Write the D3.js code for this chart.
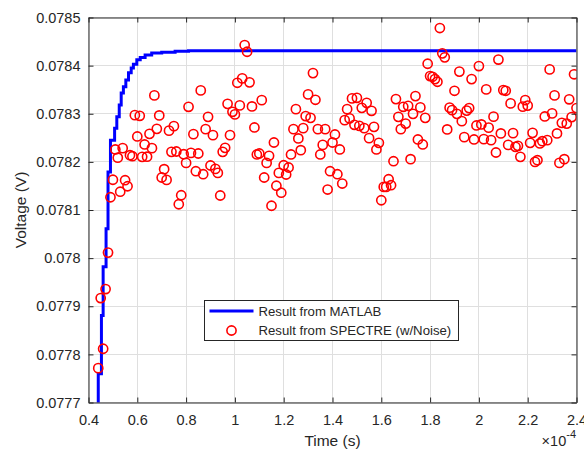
<!DOCTYPE html>
<html>
<head>
<meta charset="utf-8">
<script src="https://cdn.jsdelivr.net/npm/d3@7"></script>
<style>
  body { margin: 0; background: #fff; }
  svg text { font-family: "Liberation Sans", Arial, Helvetica, sans-serif; fill: #262626; }
</style>
</head>
<body>
<div id="chart"></div>
<script>
// MATLAB result, read as steps (time in units of 1e-4 s, volts)
var matlabTime = [0.440, 0.440, 0.453, 0.460, 0.472, 0.480, 0.490, 0.507, 0.516, 0.526,
  0.534, 0.543, 0.553, 0.564, 0.575, 0.584, 0.598, 0.612, 0.632, 0.659,
  0.700, 0.755, 0.810, 2.400]
var matlabVolt = [0.07766, 0.07776, 0.077881, 0.077982, 0.078061, 0.078179, 0.078245, 0.078270, 0.078294, 0.078318,
  0.078343, 0.078356, 0.078370, 0.078385, 0.078395, 0.078403, 0.078412, 0.078417, 0.078422, 0.078426,
  0.078428, 0.078430, 0.078431, 0.078431]

// SPECTRE samples with noise
var spectreTime = [
  0.44, 0.45, 0.46, 0.47, 0.48, 0.49, 0.50, 0.51, 0.52, 0.53,
  0.54, 0.55, 0.56, 0.57, 0.58, 0.59, 0.60, 0.61, 0.62, 0.63,
  0.64, 0.65, 0.66, 0.67, 0.68, 0.69, 0.70, 0.71, 0.72, 0.73,
  0.74, 0.75, 0.76, 0.77, 0.78, 0.79, 0.80, 0.81, 0.82, 0.83,
  0.84, 0.85, 0.86, 0.87, 0.88, 0.89, 0.90, 0.91, 0.92, 0.93,
  0.94, 0.95, 0.96, 0.97, 0.98, 0.99, 1.00, 1.01, 1.02, 1.03,
  1.04, 1.05, 1.06, 1.07, 1.08, 1.09, 1.10, 1.11, 1.12, 1.13,
  1.14, 1.15, 1.16, 1.17, 1.18, 1.19, 1.20, 1.21, 1.22, 1.23,
  1.24, 1.25, 1.26, 1.27, 1.28, 1.29, 1.30, 1.31, 1.32, 1.33,
  1.34, 1.35, 1.36, 1.37, 1.38, 1.39, 1.40, 1.41, 1.42, 1.43,
  1.44, 1.45, 1.46, 1.47, 1.48, 1.49, 1.50, 1.51, 1.52, 1.53,
  1.54, 1.55, 1.56, 1.57, 1.58, 1.59, 1.60, 1.61, 1.62, 1.63,
  1.64, 1.65, 1.66, 1.67, 1.68, 1.69, 1.70, 1.71, 1.72, 1.73,
  1.74, 1.75, 1.76, 1.77, 1.78, 1.79, 1.80, 1.81, 1.82, 1.83,
  1.84, 1.85, 1.86, 1.87, 1.88, 1.89, 1.90, 1.91, 1.92, 1.93,
  1.94, 1.95, 1.96, 1.97, 1.98, 1.99, 2.00, 2.01, 2.02, 2.03,
  2.04, 2.05, 2.06, 2.07, 2.08, 2.09, 2.10, 2.11, 2.12, 2.13,
  2.14, 2.15, 2.16, 2.17, 2.18, 2.19, 2.20, 2.21, 2.22, 2.23,
  2.24, 2.25, 2.26, 2.27, 2.28, 2.29, 2.30, 2.31, 2.32, 2.33,
  2.34, 2.35, 2.36, 2.37, 2.38, 2.39, 2.40]
var spectreVolt = [
  0.0777714, 0.0779170, 0.0778117, 0.0779357, 0.0780115, 0.0781265, 0.0781629, 0.0782258, 0.0782087, 0.0781380,
  0.0782285, 0.0781619, 0.0781494, 0.0782139, 0.0782118, 0.0782971, 0.0782528, 0.0782957, 0.0782104, 0.0782362,
  0.0782108, 0.0782582, 0.0782285, 0.0783381, 0.0782686, 0.0782965, 0.0781675, 0.0781848, 0.0781625, 0.0782649,
  0.0782208, 0.0782742, 0.0782216, 0.0781120, 0.0781307, 0.0782160, 0.0781979, 0.0783144, 0.0782187, 0.0782576,
  0.0781806, 0.0782174, 0.0783485, 0.0781744, 0.0782680, 0.0782936, 0.0781925, 0.0782555, 0.0781854, 0.0781771,
  0.0781301, 0.0782208, 0.0782291, 0.0783206, 0.0782555, 0.0783040, 0.0782986, 0.0783643, 0.0783173, 0.0783735,
  0.0784428, 0.0784288, 0.0783652, 0.0783152, 0.0782715, 0.0782154, 0.0782174, 0.0783283, 0.0781675, 0.0781979,
  0.0782125, 0.0781088, 0.0782403, 0.0781505, 0.0781771, 0.0781359, 0.0781931, 0.0781738, 0.0781883, 0.0782154,
  0.0782680, 0.0783096, 0.0782487, 0.0782243, 0.0782701, 0.0782951, 0.0783402, 0.0782915, 0.0783845, 0.0783290,
  0.0782680, 0.0782154, 0.0782353, 0.0782680, 0.0781425, 0.0781806, 0.0782403, 0.0782570, 0.0781744, 0.0782258,
  0.0781550, 0.0782867, 0.0783096, 0.0782903, 0.0783319, 0.0782770, 0.0783331, 0.0782749, 0.0783123, 0.0782701,
  0.0783227, 0.0782493, 0.0783061, 0.0782728, 0.0782258, 0.0782395, 0.0781203, 0.0781480, 0.0781480, 0.0781640,
  0.0781515, 0.0782014, 0.0783304, 0.0782936, 0.0782680, 0.0783144, 0.0782795, 0.0783165, 0.0782056, 0.0782998,
  0.0783367, 0.0782466, 0.0783132, 0.0782362, 0.0782915, 0.0784039, 0.0783783, 0.0783768, 0.0783720, 0.0783664,
  0.0784781, 0.0784255, 0.0784172, 0.0782674, 0.0783127, 0.0783075, 0.0783477, 0.0782998, 0.0783876, 0.0782846,
  0.0782514, 0.0783065, 0.0783117, 0.0783720, 0.0782466, 0.0782757, 0.0783991, 0.0782778, 0.0782472, 0.0783506,
  0.0782711, 0.0782451, 0.0782940, 0.0782195, 0.0784126, 0.0782591, 0.0783492, 0.0783477, 0.0782353, 0.0783215,
  0.0782597, 0.0782312, 0.0782333, 0.0782104, 0.0783148, 0.0783283, 0.0783169, 0.0782395, 0.0782603, 0.0782000,
  0.0782035, 0.0782383, 0.0782430, 0.0782944, 0.0782451, 0.0783922, 0.0783007, 0.0783381, 0.0782591, 0.0781979,
  0.0782811, 0.0782056, 0.0782795, 0.0783300, 0.0782930, 0.0783820, 0.0783117]

var xTicks = [0.4, 0.6, 0.8, 1, 1.2, 1.4, 1.6, 1.8, 2, 2.2, 2.4]
var yTicks = [0.0777, 0.0778, 0.0779, 0.078, 0.0781, 0.0782, 0.0783, 0.0784, 0.0785]
var legendLabels = ["Result from MATLAB", "Result from SPECTRE (w/Noise)"]

var width = 584, height = 450
// plot box (window.top is taken, so prefix everything)
var plotL = 88.5, plotR = 576.5, plotT = 17.5, plotB = 402.5
var axisColor = "#262626"

var svg = d3.select("#chart").append("svg")
    .attr("width", width)
    .attr("height", height)

var x = d3.scaleLinear().domain([0.4, 2.4]).range([plotL, plotR])
var y = d3.scaleLinear().domain([0.0777, 0.0785]).range([plotB, plotT])

function crisp(v) { return Math.round(v - 0.5) + 0.5 }

// grid first so everything sits on top of it
var grid = svg.append("g").attr("stroke", "#dfdfdf").attr("stroke-width", 1)
grid.selectAll(".gx").data(xTicks).enter().append("line")
    .attr("x1", d => crisp(x(d))).attr("x2", d => crisp(x(d)))
    .attr("y1", plotT).attr("y2", plotB)
grid.selectAll(".gy").data(yTicks).enter().append("line")
    .attr("y1", d => crisp(y(d))).attr("y2", d => crisp(y(d)))
    .attr("x1", plotL).attr("x2", plotR)

svg.append("clipPath").attr("id", "plot-clip")
  .append("rect")
    .attr("x", plotL).attr("y", plotT)
    .attr("width", plotR - plotL).attr("height", plotB - plotT)

var plot = svg.append("g").attr("clip-path", "url(#plot-clip)")

var line = d3.line()
    .x(i => x(matlabTime[i]))
    .y(i => y(matlabVolt[i]))
    .curve(d3.curveStepAfter)

plot.append("path")
    .attr("d", line(d3.range(matlabTime.length)))
    .attr("fill", "none")
    .attr("stroke", "#0000ff")
    .attr("stroke-width", 3)

plot.selectAll("circle").data(spectreTime).enter().append("circle")
    .attr("cx", (d, i) => x(d))
    .attr("cy", (d, i) => y(spectreVolt[i]))
    .attr("r", 4.6)
    .attr("fill", "none")
    .attr("stroke", "#ff0000")
    .attr("stroke-width", 1.6)

// axes on all four sides, ticks pointing in
function styleAxis(g) {
  g.selectAll("path").attr("stroke", axisColor)
  g.selectAll("line").attr("stroke", axisColor)
  g.selectAll("text").attr("fill", axisColor)
    .style("font-family", '"Liberation Sans", Arial, Helvetica, sans-serif')
    .style("font-size", "14.5px")
}

svg.append("g").attr("transform", "translate(0," + plotB + ")")
    .call(d3.axisBottom(x).tickValues(xTicks).tickFormat(d3.format("")).tickSizeInner(-5).tickSizeOuter(0).tickPadding(12))
    .call(styleAxis)
svg.append("g").attr("transform", "translate(0," + plotT + ")")
    .call(d3.axisTop(x).tickValues(xTicks).tickFormat("").tickSizeInner(-5).tickSizeOuter(0))
    .call(styleAxis)
svg.append("g").attr("transform", "translate(" + plotL + ",0)")
    .call(d3.axisLeft(y).tickValues(yTicks).tickFormat(d3.format("")).tickSizeInner(-5).tickSizeOuter(0).tickPadding(8))
    .call(styleAxis)
svg.append("g").attr("transform", "translate(" + plotR + ",0)")
    .call(d3.axisRight(y).tickValues(yTicks).tickFormat("").tickSizeInner(-5).tickSizeOuter(0))
    .call(styleAxis)

// axis labels
svg.append("text")
    .attr("x", (plotL + plotR) / 2)
    .attr("y", 446)
    .attr("text-anchor", "middle")
    .style("font-size", "15.5px")
    .text("Time (s)")

svg.append("text")
    .attr("transform", "translate(26," + (plotT + plotB) / 2 + ") rotate(-90)")
    .attr("text-anchor", "middle")
    .style("font-size", "15.5px")
    .text("Voltage (V)")

var expo = svg.append("text")
    .attr("x", 576)
    .attr("y", 446)
    .attr("text-anchor", "end")
    .style("font-size", "14.5px")
expo.append("tspan").text("\u00d710")
expo.append("tspan").attr("dy", -8).style("font-size", "11px").text("-4")

// legend
var lg = svg.append("g").attr("transform", "translate(204.5,300.5)")
lg.append("rect")
    .attr("width", 254).attr("height", 40)
    .attr("fill", "#fff")
    .attr("stroke", axisColor)
    .attr("stroke-width", 1)
lg.append("line")
    .attr("x1", 5).attr("x2", 49)
    .attr("y1", 10.5).attr("y2", 10.5)
    .attr("stroke", "#0000ff")
    .attr("stroke-width", 3)
lg.append("circle")
    .attr("cx", 27).attr("cy", 30)
    .attr("r", 4.6)
    .attr("fill", "none")
    .attr("stroke", "#ff0000")
    .attr("stroke-width", 1.6)
lg.selectAll(".lt").data(legendLabels).enter().append("text")
    .attr("x", 54)
    .attr("y", (d, i) => 15 + i * 19.5)
    .style("font-size", "13.2px")
    .text(d => d)
</script>
</body>
</html>
